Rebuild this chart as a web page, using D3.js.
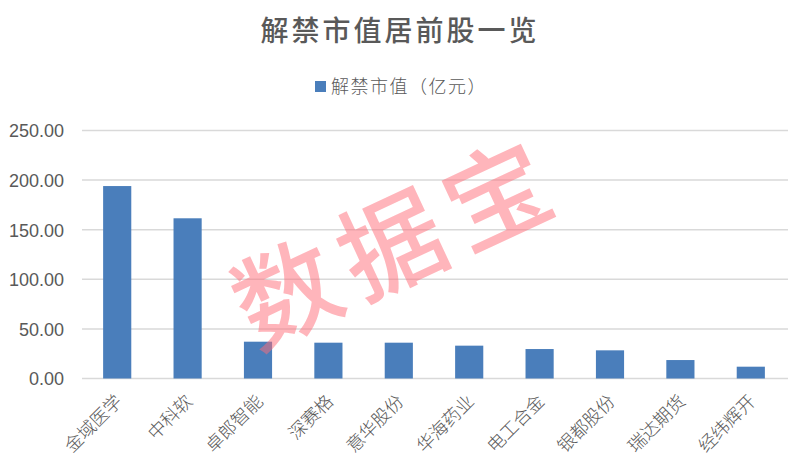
<!DOCTYPE html>
<html><head><meta charset="utf-8">
<script src="https://cdn.jsdelivr.net/npm/d3@7"></script>
<style>body{margin:0;background:#fff}svg{display:block}</style>
</head><body>
<svg id="c" width="788" height="470"></svg>
<script>
const categories = ["金域医学","中科软","卓郎智能","深赛格","意华股份","华海药业","电工合金","银都股份","瑞达期货","经纬辉开"];
const values = [194.0, 161.5, 37.1, 36.1, 36.1, 33.1, 29.7, 28.4, 18.6, 11.9];
const yTicks = [0, 50, 100, 150, 200, 250];
const title = "解禁市值居前股一览";
const seriesName = "解禁市值（亿元）";
const watermark = "数据宝";

(function () {
const svg = d3.select("#c");
const W = 788, H = 470;
const pLeft = 82, pRight = 786, pTop = 130.5, pBottom = 378.5;
const cjk = "'Noto Sans CJK SC', sans-serif";

const x = d3.scaleBand().domain(categories).range([pLeft, pRight]).paddingInner(0.6).paddingOuter(0.3);
const y = d3.scaleLinear().domain([0, 250]).range([pBottom, pTop]);

// gridlines
svg.append("g").selectAll("line").data(yTicks).join("line")
  .attr("x1", pLeft).attr("x2", W).attr("y1", d => y(d)).attr("y2", d => y(d))
  .attr("stroke", "#d9d9d9").attr("stroke-width", 1.5);

// y labels
const yAxis = d3.axisLeft(y).tickValues(yTicks).tickFormat(d3.format(".2f")).tickSize(0).tickPadding(0);
const gy = svg.append("g").attr("transform", "translate(64,0)").call(yAxis);
gy.select(".domain").remove();
gy.selectAll("text").attr("fill", "#595959").attr("font-size", 18).attr("font-family", "'Liberation Sans', Arial, sans-serif").attr("dy", "0.35em");

// bars
svg.append("g").selectAll("rect").data(values).join("rect")
  .attr("x", (d, i) => x(categories[i])).attr("width", x.bandwidth())
  .attr("y", d => y(d)).attr("height", d => y(0) - y(d))
  .attr("fill", "#4a7ebb");

// x labels
const xAxis = d3.axisBottom(x).tickSize(0).tickPadding(0);
const gx = svg.append("g").attr("transform", `translate(0,${pBottom})`).call(xAxis);
gx.select(".domain").remove();
gx.selectAll("text")
  .attr("fill", "#595959").attr("font-size", 18).attr("font-family", cjk).attr("font-weight", 300)
  .attr("text-anchor", "end").attr("dy", 0).attr("y", 0)
  .attr("transform", "translate(6,24) rotate(-45)");

// title
svg.append("text").attr("x", 400).attr("y", 41).attr("text-anchor", "middle")
  .attr("font-family", cjk).attr("font-size", 28).attr("letter-spacing", 3).attr("font-weight", 500)
  .attr("fill", "#595959").text(title);

// legend
svg.append("rect").attr("x", 315).attr("y", 81).attr("width", 11).attr("height", 11).attr("fill", "#4a7ebb");
svg.append("text").attr("x", 331).attr("y", 93).attr("font-family", cjk).attr("font-size", 18).attr("font-weight", 300)
  .attr("letter-spacing", 1.5).attr("fill", "#595959").text(seriesName);

// watermark
svg.append("text").attr("transform", "translate(398,244) rotate(-25)")
  .attr("text-anchor", "middle").attr("dy", "0.35em")
  .attr("font-family", cjk).attr("font-size", 104).attr("font-weight", 500).attr("letter-spacing", 12)
  .attr("fill", "#ff6b78").attr("fill-opacity", 0.5).text(watermark);
})();
</script>
</body></html>
